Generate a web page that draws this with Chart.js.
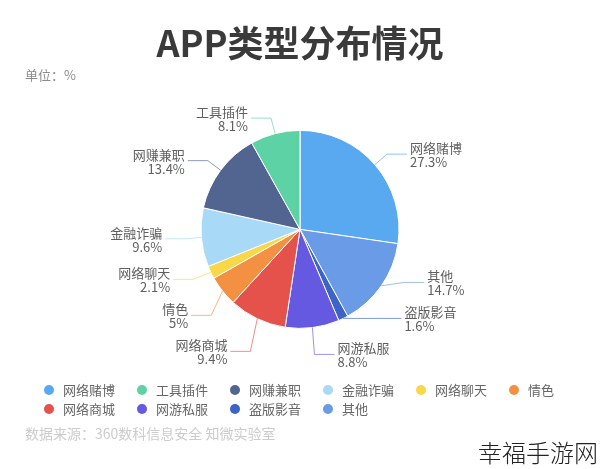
<!DOCTYPE html>
<html lang="zh">
<head>
<meta charset="utf-8">
<title>APP类型分布情况</title>
<script src="https://cdn.jsdelivr.net/npm/chart.js@4.4.1/dist/chart.umd.min.js"></script>
<style>
  body { margin: 0; background: #fff; font-family: "Noto Sans CJK SC", "Noto Sans", sans-serif; }
  #wrap { position: relative; width: 600px; height: 469px; overflow: hidden; }
  #pie { position: absolute; left: 0; top: 0; }
  #legend {
    position: absolute; left: 44px; top: 380px;
    display: grid; grid-template-columns: repeat(6, 93px); grid-auto-rows: 19px;
  }
  .item { display: flex; align-items: center; font-size: 13px; color: #666; white-space: nowrap; }
  .dot { width: 10px; height: 10px; border-radius: 50%; margin-right: 9px; flex: none; }
  #source { position: absolute; left: 25px; top: 425px; font-size: 14px; line-height: 16px; color: #cccccc; }
  #mark { position: absolute; right: 2px; top: 438px; font-size: 24px; line-height: 28px; font-weight: 300; color: #222; background: #fff; }
</style>
</head>
<body>
<div id="wrap">
  <canvas id="pie" width="600" height="469"></canvas>
  <div id="legend"></div>
  <div id="source">数据来源：360数科信息安全 知微实验室</div>
  <div id="mark">幸福手游网</div>
</div>
<script>
// slices, clockwise from 12 o'clock
const categories = ['网络赌博', '其他', '盗版影音', '网游私服', '网络商城', '情色', '网络聊天', '金融诈骗', '网赚兼职', '工具插件'];
const shares = [27.3, 14.7, 1.6, 8.8, 9.4, 5, 2.1, 9.6, 13.4, 8.1];
const sliceColors = ['#58A9EF', '#6A9BE6', '#3B63C8', '#6558E1', '#E4524B', '#F39042', '#F8D748', '#A8DAF7', '#526490', '#5DD2A4'];
// legend shows another order
const legendOrder = ['网络赌博', '工具插件', '网赚兼职', '金融诈骗', '网络聊天', '情色', '网络商城', '网游私服', '盗版影音', '其他'];

const FONT = '"Noto Sans CJK SC", "Noto Sans", sans-serif';

// outside labels with leader lines (echarts style)
const LEN1 = 16, LEN2 = 20, GAP = 36;
const outLabels = {
  id: 'outLabels',
  afterDatasetsDraw(chart) {
    const ctx = chart.ctx;
    const meta = chart.getDatasetMeta(0);
    const items = meta.data.map((arc, i) => {
      const p = arc.getProps(['x', 'y', 'outerRadius', 'startAngle', 'endAngle'], true);
      const a = (p.startAngle + p.endAngle) / 2;
      const R = p.outerRadius + LEN1;
      return {
        i, cx: p.x, cy: p.y, R,
        dir: Math.cos(a) >= 0 ? 1 : -1,
        x0: p.x + Math.cos(a) * p.outerRadius,
        y0: p.y + Math.sin(a) * p.outerRadius,
        dx: Math.abs(Math.cos(a) * R),
        y: p.y + Math.sin(a) * R,
        r: p.outerRadius
      };
    });

    [1, -1].forEach(side => {
      const list = items.filter(it => it.dir === side).sort((a, b) => a.y - b.y);
      if (!list.length) return;
      const cy = list[0].cy, r = list[0].r;
      const maxY = cy + r + 26, minY = cy - r - 26;
      const before = list.map(it => it.y);
      for (let k = 1; k < list.length; k++) {
        if (list[k].y < list[k - 1].y + GAP) list[k].y = list[k - 1].y + GAP;
      }
      const last = list.length - 1;
      if (list[last].y > maxY) {
        list[last].y = maxY;
        for (let k = last - 1; k >= 0; k--) {
          if (list[k].y > list[k + 1].y - GAP) list[k].y = list[k + 1].y - GAP;
        }
      }
      if (list[0].y < minY) list[0].y = minY;
      const moved = list.some((it, k) => Math.abs(it.y - before[k]) > 0.01);

      list.forEach(it => { it.x1 = it.cx + side * it.dx; });
      if (!moved) return;
      // put shifted labels on an ellipse, like echarts does
      [list.filter(it => it.y <= cy), list.filter(it => it.y > cy)].forEach(semi => {
        if (!semi.length) return;
        let ext = semi[0];
        semi.forEach(it => { if (Math.abs(it.y - cy) >= Math.abs(ext.y - cy)) ext = it; });
        const R = ext.R, edy = Math.abs(ext.y - cy);
        const rB = ext.dx < R ? Math.sqrt(edy * edy / (1 - ext.dx * ext.dx / (R * R))) : R;
        semi.forEach(it => {
          const dy = Math.abs(it.y - cy);
          const q = Math.max(0, 1 - dy * dy / (rB * rB));
          it.x1 = it.cx + side * Math.sqrt(q) * it.R;
        });
      });
    });

    ctx.save();
    items.forEach(it => {
      const x2 = it.x1 + it.dir * LEN2;
      ctx.globalAlpha = 0.65;
      ctx.strokeStyle = sliceColors[it.i];
      ctx.lineWidth = 1;
      ctx.beginPath();
      ctx.moveTo(it.x0, it.y0);
      ctx.lineTo(it.x1, it.y);
      ctx.lineTo(x2, it.y);
      ctx.stroke();

      ctx.globalAlpha = 1;
      ctx.fillStyle = '#5f5f5f';
      ctx.font = '13px ' + FONT;
      ctx.textBaseline = 'middle';
      ctx.textAlign = it.dir > 0 ? 'left' : 'right';
      const tx = x2 + it.dir * 3;
      ctx.fillText(categories[it.i], tx, it.y - 6);
      ctx.fillText(shares[it.i] + '%', tx, it.y + 8);
    });
    ctx.restore();
  }
};

new Chart(document.getElementById('pie'), {
  type: 'pie',
  data: {
    labels: categories,
    datasets: [{
      data: shares,
      backgroundColor: sliceColors,
      borderColor: '#fff',
      borderWidth: 1,
      radius: 99
    }]
  },
  options: {
    responsive: false,
    animation: false,
    layout: { padding: { top: 0, left: 25, right: 25, bottom: 101 } },
    plugins: {
      legend: { display: false },
      tooltip: { enabled: false },
      title: {
        display: true,
        text: 'APP类型分布情况',
        color: '#3a3a3a',
        font: { family: FONT, size: 36, weight: 'bold' },
        padding: { top: 22, bottom: 0 }
      },
      subtitle: {
        display: true,
        text: '单位：%',
        align: 'start',
        color: '#8c8c8c',
        font: { family: FONT, size: 13 },
        padding: { top: 2, bottom: 8 }
      }
    }
  },
  plugins: [outLabels]
});

// html legend in the reference's order
const legendBox = document.getElementById('legend');
legendOrder.forEach(name => {
  const idx = categories.indexOf(name);
  const el = document.createElement('div');
  el.className = 'item';
  el.innerHTML = `<span class="dot" style="background:${sliceColors[idx]}"></span>${name}`;
  legendBox.appendChild(el);
});
</script>
</body>
</html>
